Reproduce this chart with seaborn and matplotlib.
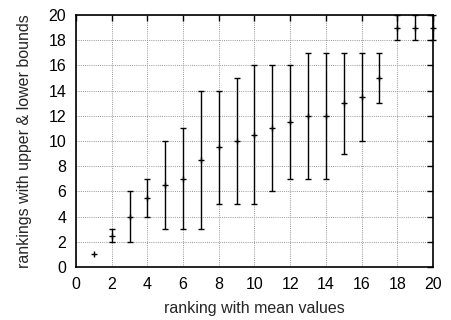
import matplotlib
matplotlib.use("Agg")
import matplotlib.pyplot as plt
import seaborn as sns
import pandas as pd

rank_mean_x = list(range(1, 21))
mean_vals = [1, 2.5, 4, 5.5, 6.5, 7, 8.5, 9.5, 10, 10.5, 11, 11.5, 12, 12, 13, 13.5, 15, 19, 19, 19]
lower_vals = [1, 2, 2, 4, 3, 3, 3, 5, 5, 5, 6, 7, 7, 7, 9, 10, 13, 18, 18, 18]
upper_vals = [1, 3, 6, 7, 10, 11, 14, 14, 15, 16, 16, 16, 17, 17, 17, 17, 17, 20, 20, 20]
ticks = list(range(0, 21, 2))

df = pd.DataFrame({"x": rank_mean_x, "mean": mean_vals, "lo": lower_vals, "hi": upper_vals})

sns.set_style("white")
plt.rcParams["font.family"] = ["Liberation Sans", "DejaVu Sans"]

fig = plt.figure(figsize=(4.51, 3.20), dpi=100)
ax = fig.add_axes([0.1685, 0.1656, 0.7915, 0.7875])

bars = df[df["hi"] > df["lo"]]
err_lo = bars["mean"] - bars["lo"]
err_hi = bars["hi"] - bars["mean"]
ax.errorbar(bars["x"], bars["mean"], yerr=[err_lo, err_hi], fmt="none",
            ecolor="black", elinewidth=1.0, capsize=2.5, capthick=1.0, zorder=3, clip_on=False)
sns.scatterplot(data=df, x="x", y="mean", marker="+", s=14, color="black",
                linewidth=1.0, ax=ax, zorder=4, clip_on=False)

ax.set_xlim(0, 20)
ax.set_ylim(0, 20)
ax.set_xticks(ticks)
ax.set_yticks(ticks)
ax.grid(True, color="#999999", linestyle=(0, (1, 1.2)), linewidth=0.7)
ax.set_axisbelow(True)
for s in ax.spines.values():
    s.set_color("black")
    s.set_linewidth(1.2)
ax.tick_params(direction="in", length=4, width=1, top=True, right=True,
               labelsize=11.5, colors="black", pad=7)
ax.set_xlabel("ranking with mean values", fontsize=11.5, labelpad=7)
ax.set_ylabel("rankings with upper & lower bounds", fontsize=11.5, labelpad=12)

fig.savefig("out.png", dpi=100)
